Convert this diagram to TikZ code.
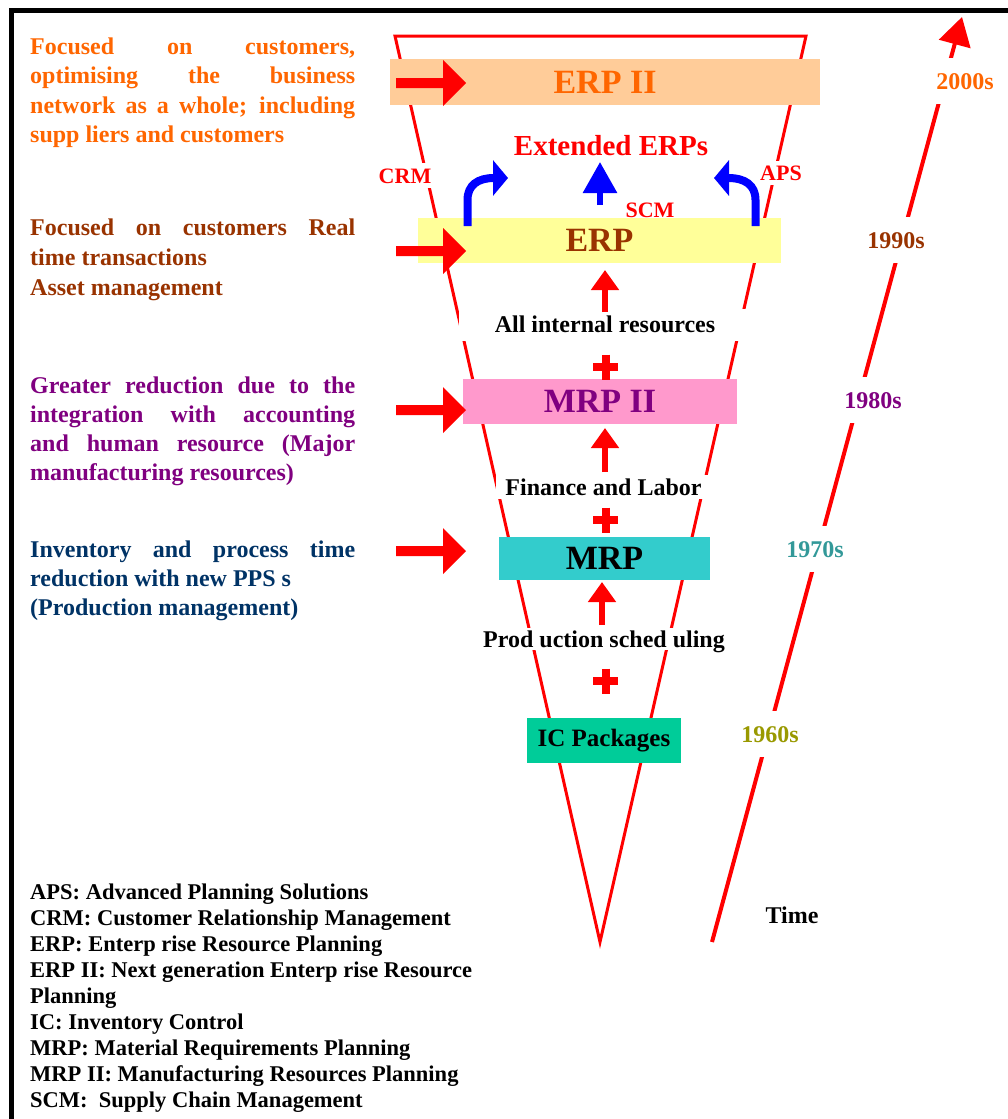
\documentclass[tikz,border=0pt]{standalone}
\usepackage{fontspec}
\setmainfont{Liberation Serif}
\usetikzlibrary{arrows.meta}

\definecolor{erporange}{HTML}{FF6600}
\definecolor{erpbrown}{HTML}{993300}
\definecolor{mrppurple}{HTML}{800080}
\definecolor{mrpnavy}{HTML}{003366}
\definecolor{mrpteal}{HTML}{339999}
\definecolor{icolive}{HTML}{999900}
\definecolor{fillerpii}{HTML}{FFCC99}
\definecolor{fillerp}{HTML}{FFFF99}
\definecolor{fillmrpii}{HTML}{FF99CC}
\definecolor{fillmrp}{HTML}{33CCCC}
\definecolor{fillic}{HTML}{00CC99}

% bold text at a given size / baseline skip
\newcommand\fsz[2]{\fontsize{#1}{#2}\selectfont\bfseries}
% one justified line and one natural line of a side note
\newcommand\jline[1]{\hbox{\makebox[325pt][s]{#1}}}
\newcommand\nline[1]{\hbox{#1}}
% red block arrow pointing right into a stage, centred at height #1
\newcommand\rightblock[1]{\fill[red] (396,#1-5) -- (443,#1-5) -- (443,#1-23) -- (466,#1) -- (443,#1+23) -- (443,#1+5) -- (396,#1+5) -- cycle;}
% red plus sign centred at height #1
\newcommand\plusmark[1]{\draw[plusline] (593,#1) -- (618,#1) (605.5,#1-12.5) -- (605.5,#1+12.5);}

\begin{document}
\begin{tikzpicture}[x=1pt,y=-1pt,
  stagebox/.style={inner sep=0, draw=none, font=\fsz{34}{40}},
  gaplabel/.style={fill=white, inner sep=0, text height=16pt, text depth=0pt},
  note/.style={anchor=base west, inner sep=0, font=\fsz{24}{29.5}},
  upred/.style={red, line width=6pt, -{Triangle[length=20pt,width=27pt]}},
  upblue/.style={blue, line width=8pt, -{Triangle[length=15pt,width=35pt]}},
  plusline/.style={red, line width=8pt},
  funnel/.style={red, line width=3pt, line join=miter},
]
\useasboundingbox (0,0) rectangle (1008,1119);
\fill[white] (0,0) rectangle (1008,1119);

% frame
\draw[line width=4.5pt, line join=miter] (1008,10.5) -- (11.5,10.5) -- (11.5,1119);

% funnel
\draw[funnel] (395,36) -- (600,942) -- (806,36) -- cycle;

% time axis
\coordinate (tstart) at (712,942);
\coordinate (tend) at (962,17);
\draw[red, line width=4pt, -{Triangle[length=28pt,width=32pt]}] (tstart) -- (tend);

% decade labels on the time axis
\node[gaplabel, minimum width=64, minimum height=46, text=erporange, font=\fsz{24}{29}] (y2000) at (965,81) {2000s};
\node[gaplabel, minimum width=64, minimum height=46, text=erpbrown, font=\fsz{24}{29}] (y1990) at (896,240) {1990s};
\node[gaplabel, minimum width=64, minimum height=46, text=mrppurple, font=\fsz{24}{29}] (y1980) at (873,400) {1980s};
\node[gaplabel, minimum width=64, minimum height=46, text=mrpteal, font=\fsz{24}{29}] (y1970) at (815,549) {1970s};
\node[gaplabel, minimum width=64, minimum height=46, text=icolive, font=\fsz{24}{29}] (y1960) at (770,734) {1960s};
\node[inner sep=0, text height=16pt, text depth=0pt, font=\fsz{24}{29}] (time) at (792,915) {Time};

% labels inside the funnel
\node[gaplabel, minimum width=292, minimum height=32, font=\fsz{24}{29}, text height=15pt] (allint) at (605,324.5) {All internal resources};
\node[gaplabel, minimum width=216, minimum height=24, font=\fsz{24}{29}] (finlab) at (603.5,487) {Finance and Labor};
\node[gaplabel, minimum width=242, minimum height=22, font=\fsz{24}{29}] (prodsch) at (604,639) {Prod uction sched uling};
\node[gaplabel, minimum height=25, inner xsep=1pt, text=red, font=\fsz{22}{26}, text height=15pt] (crm) at (405,175.5) {CRM};
\node[gaplabel, minimum height=24, inner xsep=1pt, text=red, font=\fsz{22}{26}, text height=15pt] (aps) at (781,172.5) {APS};
\node[anchor=base, inner sep=0, text=red, font=\fsz{22}{26}] (scm) at (650,217) {SCM};
\node[anchor=base, inner sep=0, text=red, font=\fsz{29}{34}] (ext) at (611,155) {Extended ERPs};

% stages
\node[stagebox, fill=fillerpii, minimum width=430, minimum height=46, text=erporange] (erp2) at (605,82) {ERP II};
\node[stagebox, fill=fillerp, minimum width=363, minimum height=45, text=erpbrown] (erp) at (599.5,240.5) {ERP};
\node[stagebox, fill=fillmrpii, minimum width=274, minimum height=45, text=mrppurple] (mrp2) at (600,401.5) {MRP II};
\node[stagebox, fill=fillmrp, minimum width=211, minimum height=43] (mrp) at (604.5,558.5) {MRP};
\node[stagebox, fill=fillic, minimum width=154, minimum height=45, font=\fsz{25}{30}] (ic) at (604,740.5) {IC Packages};

% arrows from the side notes into the stages
\rightblock{83}
\rightblock{251}
\rightblock{410}
\rightblock{551}

% growth arrows between the stages
\coordinate (a1s) at (605,312); \coordinate (a1e) at (605,270);
\coordinate (a2s) at (605,472); \coordinate (a2e) at (605,428);
\coordinate (a3s) at (602,625); \coordinate (a3e) at (602,582);
\draw[upred] (a1s) -- (a1e);
\draw[upred] (a2s) -- (a2e);
\draw[upred] (a3s) -- (a3e);

\plusmark{367}
\plusmark{520}
\plusmark{681}

% extensions of the ERP stage
\coordinate (crmS) at (467.5,226); \coordinate (crmE) at (508,178);
\coordinate (scmS) at (600,205);   \coordinate (scmE) at (600,162);
\coordinate (apsS) at (755.5,226); \coordinate (apsE) at (714,178);
\draw[upblue] (crmS) -- (467.5,200) .. controls (467.5,185) and (478,178) .. (crmE);
\draw[blue, line width=6pt, -{Triangle[length=31pt,width=33pt]}] (scmS) -- (scmE);
\draw[upblue] (apsS) -- (755.5,200) .. controls (755.5,185) and (745,178) .. (apsE);

% side notes
\node[note, text=erporange] (n2000) at (30,54) {\vtop{%
  \jline{Focused on customers,}
  \jline{optimising the business}
  \jline{network as a whole; including}
  \nline{supp liers and customers}}};
\node[note, text=erpbrown, font=\fsz{24}{30}] (n1990) at (30,235) {\vtop{%
  \jline{Focused on customers Real}
  \nline{time transactions}
  \nline{Asset management}}};
\node[note, text=mrppurple, font=\fsz{24}{29}] (n1980) at (30,393) {\vtop{%
  \jline{Greater reduction due to the}
  \jline{integration with accounting}
  \jline{and human resource (Major}
  \nline{manufacturing resources)}}};
\node[note, text=mrpnavy, font=\fsz{24}{29}] (n1970) at (30,557) {\vtop{%
  \jline{Inventory and process time}
  \nline{reduction with new PPS s}
  \nline{(Production management)}}};

% abbreviations
\node[note, font=\fsz{22.5}{26}] (legend) at (30,899) {\vtop{%
  \nline{APS: Advanced Planning Solutions}
  \nline{CRM: Customer Relationship Management}
  \nline{ERP: Enterp rise Resource Planning}
  \nline{ERP II: Next generation Enterp rise Resource}
  \nline{Planning}
  \nline{IC: Inventory Control}
  \nline{MRP: Material Requirements Planning}
  \nline{MRP II: Manufacturing Resources Planning}
  \nline{SCM:\ \ Supply Chain Management}}};
\end{tikzpicture}
\end{document}
